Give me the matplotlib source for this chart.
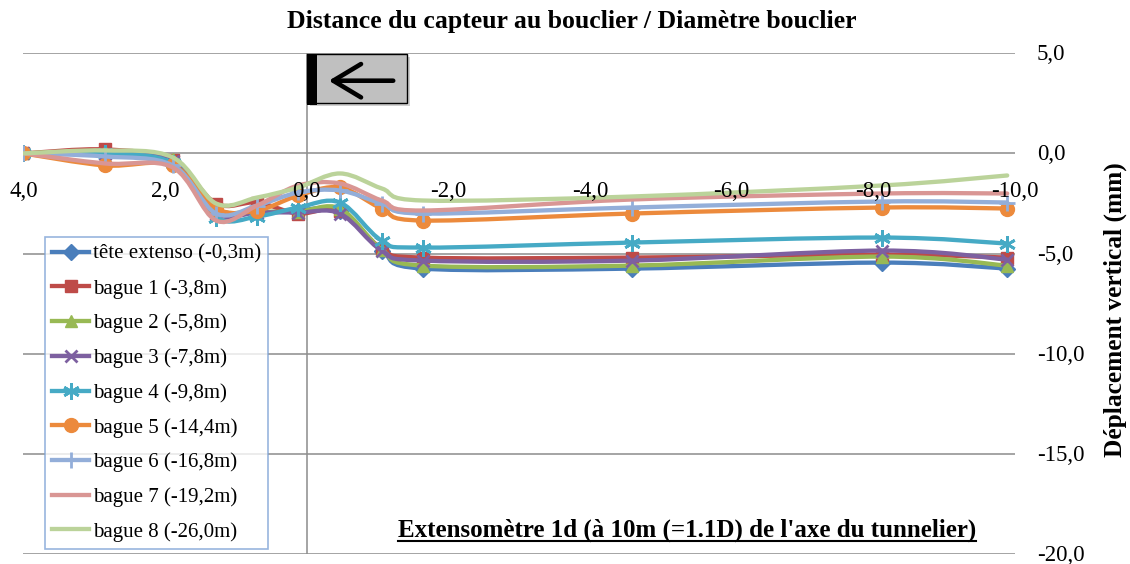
import numpy as np
import matplotlib
matplotlib.use("Agg")
import matplotlib.pyplot as plt
from matplotlib.path import Path
from matplotlib.patches import PathPatch, Rectangle, FancyArrowPatch
from matplotlib.lines import Line2D
from matplotlib.transforms import blended_transform_factory

plt.rcParams['font.family'] = ['Liberation Serif', 'DejaVu Serif']

# distance capteur / diametre bouclier
dist = [4.0, 2.85, 1.89, 1.28, 0.70, 0.12, -0.47, -1.06, -1.64, -4.59, -8.12, -9.89]

# deplacement vertical (mm)
tete = [0, -0.05, -0.45, -2.9, -2.95, -2.85, -2.85, -4.85, -5.75, -5.75, -5.45, -5.75]
bague1 = [0, 0.2, -0.35, -2.5, -2.45, -3.0, -2.85, -4.75, -5.2, -5.2, -5.05, -5.2]
bague2 = [0, 0.1, -0.3, -2.75, -2.9, -2.9, -2.75, -4.8, -5.6, -5.6, -5.15, -5.6]
bague3 = [0, -0.05, -0.4, -3.0, -2.95, -2.95, -3.0, -4.85, -5.35, -5.35, -4.85, -5.3]
bague4 = [0, 0.0, -0.5, -3.2, -3.15, -2.7, -2.45, -4.35, -4.7, -4.45, -4.2, -4.5]
bague5 = [0, -0.6, -0.6, -2.75, -2.85, -2.1, -1.7, -2.75, -3.35, -3.0, -2.7, -2.75]
bague6 = [0, -0.15, -0.6, -3.0, -2.6, -1.95, -1.85, -2.5, -3.0, -2.7, -2.4, -2.45]
bague7 = [0, -0.5, -0.7, -3.35, -2.6, -1.6, -1.5, -2.35, -2.85, -2.3, -2.0, -2.0]
bague8 = [0, 0.15, -0.2, -2.5, -2.2, -1.7, -1.0, -1.75, -2.35, -2.15, -1.6, -1.1]

labels = ['tête extenso (-0,3m)', 'bague 1 (-3,8m)', 'bague 2 (-5,8m)',
          'bague 3 (-7,8m)', 'bague 4 (-9,8m)', 'bague 5 (-14,4m)',
          'bague 6 (-16,8m)', 'bague 7 (-19,2m)', 'bague 8 (-26,0m)']
series = [tete, bague1, bague2, bague3, bague4, bague5, bague6, bague7, bague8]
colors = ['#4A7EBB', '#BE4B48', '#98B954', '#7D60A0', '#46AAC5',
          '#EC8A3C', '#93AED9', '#D99694', '#BBD39A']
markers = ['D', 's', '^', 'x', (6, 2, 0), 'o', '+', None, None]
msizes = [8, 8, 9, 9, 12, 10, 11, 0, 0]

xticks = [4, 2, 0, -2, -4, -6, -8, -10]
yticks = [5, 0, -5, -10, -15, -20]

W, H = 1130, 564


def px(x, y):
    return (x / W, 1 - y / H)


def smooth_path(xs, ys):
    # bezier lissé (type catmull-rom) passant par chaque point
    p = np.column_stack([xs, ys]).astype(float)
    n = len(p)
    verts = [p[0]]
    codes = [Path.MOVETO]
    for i in range(n - 1):
        p0 = p[i - 1] if i > 0 else p[i]
        p3 = p[i + 2] if i + 2 < n else p[i + 1]
        c1 = p[i] + (p[i + 1] - p0) / 6
        c2 = p[i + 1] - (p3 - p[i]) / 6
        verts += [c1, c2, p[i + 1]]
        codes += [Path.CURVE4] * 3
    return Path(verts, codes)


fig = plt.figure(figsize=(W / 100, H / 100), dpi=100)
ax = fig.add_axes([23.4 / W, 10 / H, (1015 - 23.4) / W, (554 - 53.3) / H])
ax.set_xlim(4, -10)
ax.set_ylim(-20, 5)
for s in ax.spines.values():
    s.set_visible(False)
ax.set_xticks([])
ax.set_yticks([])

for v in yticks:
    ax.axhline(v, color='#8c8c8c', lw=1.1, zorder=1)
ax.axvline(0, color='#8c8c8c', lw=1.1, zorder=1)

for i, (ys, c, m, ms) in enumerate(zip(series, colors, markers, msizes)):
    patch = PathPatch(smooth_path(dist, ys), facecolor='none', edgecolor=c,
                      lw=3.1, capstyle='round', joinstyle='round', zorder=3 + i)
    ax.add_patch(patch)
    if m is not None:
        ax.plot(dist, ys, linestyle='none', marker=m, ms=ms, color=c,
                mec=c, mew=2 if m in ('x', '+', (6, 2, 0)) else 1, zorder=3 + i)

# graduations
for v in xticks:
    ax.annotate(f"{v:.1f}".replace('.', ','), (v, 0), xytext=(0, -31.5),
                textcoords='offset points', ha='center', va='baseline',
                fontsize=16.5, zorder=20)
tr = blended_transform_factory(ax.transAxes, ax.transData)
for v in yticks:
    ax.annotate(f"{v:.1f}".replace('.', ','), (1, v), xycoords=tr,
                xytext=(15.8, -5.0), textcoords='offset points',
                ha='left', va='baseline', fontsize=16.5, annotation_clip=False)

# legende
handles = [Line2D([], [], color=c, lw=3.1, marker=m if m is not None else '',
                  ms=ms, mec=c, mew=2 if m in ('x', '+', (6, 2, 0)) else 1)
           for c, m, ms in zip(colors, markers, msizes)]
leg = fig.legend(handles, labels, loc='upper left',
                 bbox_to_anchor=px(45, 237), bbox_transform=fig.transFigure,
                 fontsize=15, frameon=True, fancybox=False, borderaxespad=0,
                 borderpad=0.35, labelspacing=0.72, handlelength=1.75,
                 handletextpad=0.2)
leg.get_frame().set_edgecolor('#7EA3D6')
leg.get_frame().set_linewidth(1.2)
leg.set_zorder(30)

# textes
fig.text(572 / W, 1 - 28 / H, 'Distance du capteur au bouclier / Diamètre bouclier',
         ha='center', va='baseline', fontsize=18.5, fontweight='bold')
fig.text(1115 / W, 1 - 310 / H, 'Déplacement vertical (mm)', rotation=90,
         ha='center', va='center', fontsize=18.3, fontweight='bold')
note = fig.text(398 / W, 1 - 537 / H,
                "Extensomètre 1d (à 10m (=1.1D) de l'axe du tunnelier)",
                ha='left', va='baseline', fontsize=18, fontweight='bold')
fig.canvas.draw()
bb = note.get_window_extent()
x0, y0 = fig.transFigure.inverted().transform((bb.x0, 0))[0], 1 - 541 / H
x1 = fig.transFigure.inverted().transform((bb.x1, 0))[0]
fig.add_artist(Line2D([x0, x1], [y0, y0], color='black', lw=1.5,
                      transform=fig.transFigure))

# cartouche sens d'avancement
fig.add_artist(Rectangle(px(309.5, 106), 100 / W, 49 / H, transform=fig.transFigure,
                         facecolor='#a0a0a0', edgecolor='none', alpha=0.5, zorder=40))
fig.add_artist(Rectangle(px(306.7, 103), 100 / W, 49 / H, transform=fig.transFigure,
                         facecolor='#c0c0c0', edgecolor='black', lw=1, zorder=41))
fig.add_artist(Rectangle(px(306.7, 105), 10 / W, 51 / H, transform=fig.transFigure,
                         facecolor='black', edgecolor='none', zorder=42))
fig.add_artist(FancyArrowPatch(px(396, 80.7), px(326, 80.7), transform=fig.transFigure,
                               arrowstyle='->,head_length=1.0,head_width=0.6',
                               mutation_scale=20, lw=3.3, color='black', zorder=43))

fig.savefig('out.png', dpi=100)
